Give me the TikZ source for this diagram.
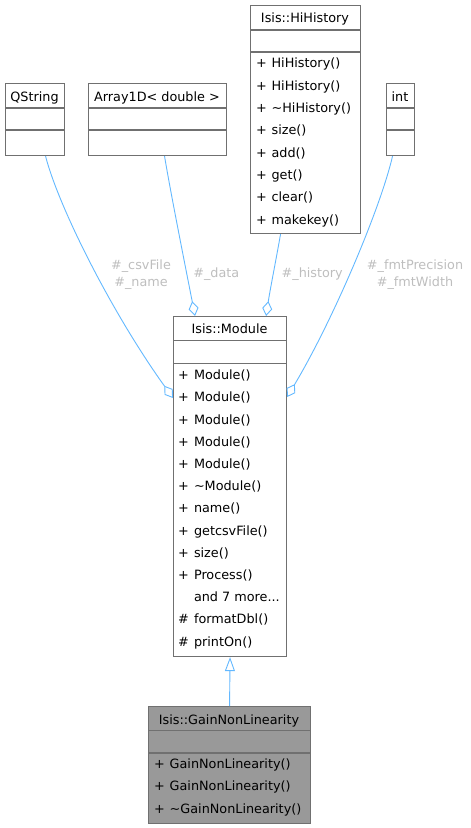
\documentclass[tikz,border=0pt]{standalone}
\usepackage{fontspec}
\setmainfont{DejaVu Sans}
\usetikzlibrary{arrows.meta}
\definecolor{boxgray}{HTML}{707070}
\definecolor{curfill}{HTML}{999999}
\definecolor{edgeblue}{HTML}{63B8FF}
\definecolor{lblgray}{HTML}{BEBEBE}
\newcommand{\dfont}{\fontsize{12.8bp}{16.8bp}\selectfont}
\tikzset{
  classbox/.style={draw=boxgray, line width=1.1bp, fill=white, inner sep=0pt, anchor=north west},
  curbox/.style={classbox, fill=curfill},
  sepline/.style={draw=boxgray, line width=1.1bp},
  ttl/.style={font=\dfont, inner sep=0pt, text height=9.3bp, text depth=0pt, anchor=center},
  mem/.style={font=\dfont, inner sep=0pt, text height=9.3bp, text depth=0pt, anchor=west},
  elbl/.style={font=\dfont, text=lblgray, inner sep=0pt, align=center},
  agg/.style={draw=edgeblue, line width=0.9bp, {Diamond[open, length=15bp, width=10bp, line width=0.9bp]}-},
  inh/.style={draw=edgeblue, line width=0.9bp, -{Triangle[open, length=14bp, width=10bp, line width=0.9bp]}}
}
% \mrow{name}{x symbol}{x text}{y}{symbol}{text}
\newcommand{\mrow}[6]{%
  \node[mem] (#1s) at (#2,#4) {#5};
  \node[mem] (#1) at (#3,#4) {#6};}
\begin{document}
\begin{tikzpicture}[x=1bp, y=-1bp]
\useasboundingbox (0,0) rectangle (471,828);

% QString
\node[classbox, minimum width=59bp, minimum height=72bp] (qstring) at (5,83) {};
\draw[sepline] (5,108) -- (64,108);
\draw[sepline] (5,130) -- (64,130);
\node[ttl] (qstringT) at (34.5,97) {QString};

% Array1D
\node[classbox, minimum width=138bp, minimum height=72bp] (array) at (88,83) {};
\draw[sepline] (88,108) -- (226,108);
\draw[sepline] (88,130) -- (226,130);
\node[ttl] (arrayT) at (157,97) {Array1D< double >};

% HiHistory
\node[classbox, minimum width=110bp, minimum height=228bp] (hist) at (250,5) {};
\draw[sepline] (250,30) -- (360,30);
\draw[sepline] (250,52) -- (360,52);
\node[ttl] (histT) at (305,18.3) {Isis::HiHistory};
\mrow{h1}{256}{271.4}{63.3}{+}{HiHistory()}
\mrow{h2}{256}{271.4}{85.6}{+}{HiHistory()}
\mrow{h3}{256}{271.4}{107.9}{+}{\textasciitilde HiHistory()}
\mrow{h4}{256}{271.4}{130.2}{+}{size()}
\mrow{h5}{256}{271.4}{152.5}{+}{add()}
\mrow{h6}{256}{271.4}{174.8}{+}{get()}
\mrow{h7}{256}{271.4}{197.1}{+}{clear()}
\mrow{h8}{256}{271.4}{219.4}{+}{makekey()}

% int
\node[classbox, minimum width=28bp, minimum height=72bp] (int) at (386,83) {};
\draw[sepline] (386,108) -- (414,108);
\draw[sepline] (386,130) -- (414,130);
\node[ttl] (intT) at (400,97) {int};

% Module
\node[classbox, minimum width=113bp, minimum height=340bp] (module) at (173,316) {};
\draw[sepline] (173,340.7) -- (286,340.7);
\draw[sepline] (173,363.3) -- (286,363.3);
\node[ttl] (moduleT) at (229.5,329) {Isis::Module};
\mrow{m1}{178}{193.8}{375.0}{+}{Module()}
\mrow{m2}{178}{193.8}{397.2}{+}{Module()}
\mrow{m3}{178}{193.8}{419.4}{+}{Module()}
\mrow{m4}{178}{193.8}{441.6}{+}{Module()}
\mrow{m5}{178}{193.8}{463.8}{+}{Module()}
\mrow{m6}{178}{193.8}{486.0}{+}{\textasciitilde Module()}
\mrow{m7}{178}{193.8}{508.2}{+}{name()}
\mrow{m8}{178}{193.8}{530.4}{+}{getcsvFile()}
\mrow{m9}{178}{193.8}{552.6}{+}{size()}
\mrow{m10}{178}{193.8}{574.8}{+}{Process()}
\node[mem] (m11) at (193.8,597.0) {and 7 more...};
\mrow{m12}{178}{193.8}{619.2}{\#}{formatDbl()}
\mrow{m13}{178}{193.8}{641.4}{\#}{printOn()}

% GainNonLinearity
\node[curbox, minimum width=162bp, minimum height=117bp] (gnl) at (148,706) {};
\draw[sepline] (148,730.3) -- (310,730.3);
\draw[sepline] (148,753) -- (310,753);
\node[ttl] (gnlT) at (229,719.5) {Isis::GainNonLinearity};
\mrow{g1}{154}{169.5}{763.5}{+}{GainNonLinearity()}
\mrow{g2}{154}{169.5}{786}{+}{GainNonLinearity()}
\mrow{g3}{154}{169.5}{808.5}{+}{\textasciitilde GainNonLinearity()}

% connectors
\draw[inh] (gnl.north) -- (module.south);
\draw[agg] ([yshift=-82bp]module.north west) .. controls (110,310) and (58,205) .. ([xshift=10.5bp]qstring.south);
\draw[agg] ([xshift=22bp]module.north west) .. controls (190,290) and (170,190) .. ([xshift=7bp]array.south);
\draw[agg] ([xshift=-21bp]module.north east) .. controls (270,290) and (276,260) .. ([xshift=-25bp]hist.south);
\draw[agg] ([yshift=-81bp]module.north east) .. controls (332,322) and (380,210) .. ([xshift=-8bp]int.south);

% labels
\node[elbl] (lcsv) at (141,275) {\#\_csvFile\\\#\_name};
\node[elbl] (ldata) at (216.3,274.3) {\#\_data};
\node[elbl] (lhist) at (312.2,274.3) {\#\_history};
\node[elbl] (lfmt) at (415,275) {\#\_fmtPrecision\\\#\_fmtWidth};
\end{tikzpicture}
\end{document}
